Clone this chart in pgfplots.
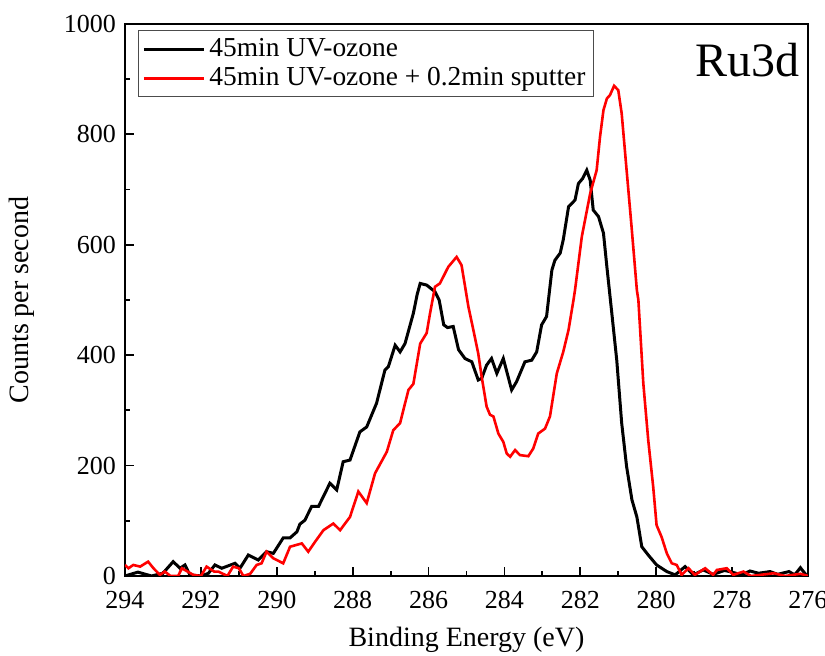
\documentclass[border=0pt]{standalone}
\usepackage{pgfplots}
\pgfplotsset{compat=1.18}
\usepackage{fontspec}
\setmainfont{Liberation Serif}
\begin{document}
\begin{tikzpicture}
\path[use as bounding box] (-62.5pt,-40pt) rectangle (350pt,288pt);
\begin{axis}[
  at={(0,0)}, anchor=south west,
  scale only axis, width=341.5pt, height=276pt,
  xmin=276, xmax=294, x dir=reverse,
  ymin=0, ymax=1000,
  xtick={276,278,...,294}, minor x tick num=1,
  ytick={0,200,...,1000}, minor y tick num=1,
  tick align=inside, xtick pos=bottom, ytick pos=left,
  major tick length=4.5pt, minor tick length=2.5pt,
  axis line style={line width=1pt},
  every tick/.style={black, line width=0.9pt},
  ticklabel style={font=\fontsize{13}{15}\selectfont},
  xticklabel style={yshift=-4pt},
  yticklabel style={xshift=-1pt},
  /pgf/number format/assume math mode=true,
  /pgf/number format/set thousands separator={},
  xlabel={Binding Energy (eV)}, ylabel={Counts per second},
  label style={font=\fontsize{14}{16}\selectfont},
  xlabel style={at={(axis description cs:0.5,-0.115)}, anchor=center},
  ylabel style={at={(axis description cs:-0.151,0.5)}, anchor=center},
  legend style={at={(axis description cs:0.019,0.989)}, anchor=north west,
    draw=black!70, line width=0.5pt, font=\fontsize{13.7}{15}\selectfont,
    inner xsep=2pt, inner ysep=2pt, row sep=0pt},
  legend cell align=left,
  legend image code/.code={\draw[#1] (0pt,0pt) -- (30pt,0pt);},
]
\addplot[black, line width=1.5pt] coordinates {
(294.0,0) (293.66,7) (293.3,0) (293.0,5) (292.73,26) (292.55,14) (292.42,20) (292.29,2)
(291.98,0) (291.8,5) (291.63,20) (291.45,14) (291.1,23) (290.97,14) (290.75,38) (290.49,29)
(290.27,44) (290.09,41) (289.83,69) (289.65,69) (289.47,80) (289.39,94) (289.26,101) (289.08,126)
(288.9,126) (288.6,168) (288.42,156) (288.25,207) (288.07,210) (287.81,261) (287.63,270) (287.37,313)
(287.15,373) (287.06,379) (286.88,418) (286.75,406) (286.62,421) (286.4,476) (286.3,510) (286.22,530)
(286.05,527) (285.83,515) (285.72,500) (285.6,455) (285.5,450) (285.35,452) (285.21,410) (285.04,394)
(284.86,388) (284.69,355) (284.6,358) (284.47,382) (284.34,394) (284.2,367) (284.03,394) (283.81,337)
(283.68,352) (283.46,388) (283.28,391) (283.15,406) (283.02,455) (282.89,470) (282.75,554) (282.67,572)
(282.53,585) (282.45,609) (282.31,669) (282.14,681) (282.05,711) (281.94,720) (281.83,735) (281.74,717)
(281.66,663) (281.52,651) (281.39,621) (281.3,560) (281.17,476) (281.04,391) (280.91,277) (280.78,198)
(280.64,138) (280.51,107) (280.38,53) (280.21,38) (279.99,20) (279.72,8) (279.5,2) (279.24,17)
(279.02,2) (278.76,11) (278.5,3) (278.2,10) (278.0,7) (277.75,2) (277.53,9) (277.3,5)
(277.0,8) (276.8,3) (276.5,8) (276.35,2) (276.2,15) (276.05,2)
};
\addlegendentry{45min UV-ozone}
\addplot[red, line width=1.3pt] coordinates {
(294.0,20) (293.91,14) (293.78,20) (293.6,17) (293.39,26) (293.25,14) (293.08,2) (292.95,8)
(292.8,0) (292.6,0) (292.5,14) (292.2,2) (292.0,0) (291.85,17) (291.65,8) (291.54,8)
(291.3,0) (291.15,17) (291.0,14) (290.88,0) (290.7,4) (290.53,20) (290.4,23) (290.27,44)
(290.09,32) (289.83,23) (289.65,53) (289.34,59) (289.17,44) (288.99,62) (288.77,83) (288.64,89)
(288.51,95) (288.33,83) (288.07,107) (287.85,153) (287.63,132) (287.41,186) (287.1,225) (286.93,264)
(286.75,277) (286.53,337) (286.4,348) (286.22,421) (286.05,440) (285.96,476) (285.83,524) (285.7,530)
(285.48,560) (285.26,578) (285.13,563) (284.95,488) (284.82,446) (284.69,403) (284.6,361) (284.47,307)
(284.38,292) (284.29,289) (284.16,258) (284.03,243) (283.94,222) (283.85,216) (283.72,228) (283.59,219)
(283.37,217) (283.24,231) (283.11,258) (282.93,267) (282.8,289) (282.62,367) (282.45,406) (282.31,446)
(282.18,500) (282.14,518) (281.96,615) (281.74,693) (281.57,735) (281.48,796) (281.39,844) (281.3,865)
(281.22,871) (281.11,888) (281.0,880) (280.91,838) (280.78,735) (280.65,633) (280.51,518) (280.47,500)
(280.34,349) (280.21,246) (280.08,162) (279.99,92) (279.86,71) (279.72,41) (279.59,23) (279.46,20)
(279.33,2) (279.15,14) (278.98,2) (278.71,14) (278.5,2) (278.4,11) (278.14,14) (277.97,2)
(277.7,8) (277.5,0) (276.9,5) (276.6,0) (276.2,4) (276.0,0)
};
\addlegendentry{45min UV-ozone + 0.2min sputter}
\node[font=\fontsize{24}{28}\selectfont] at (axis description cs:0.912,0.935) {Ru3d};
\end{axis}
\end{tikzpicture}
\end{document}
